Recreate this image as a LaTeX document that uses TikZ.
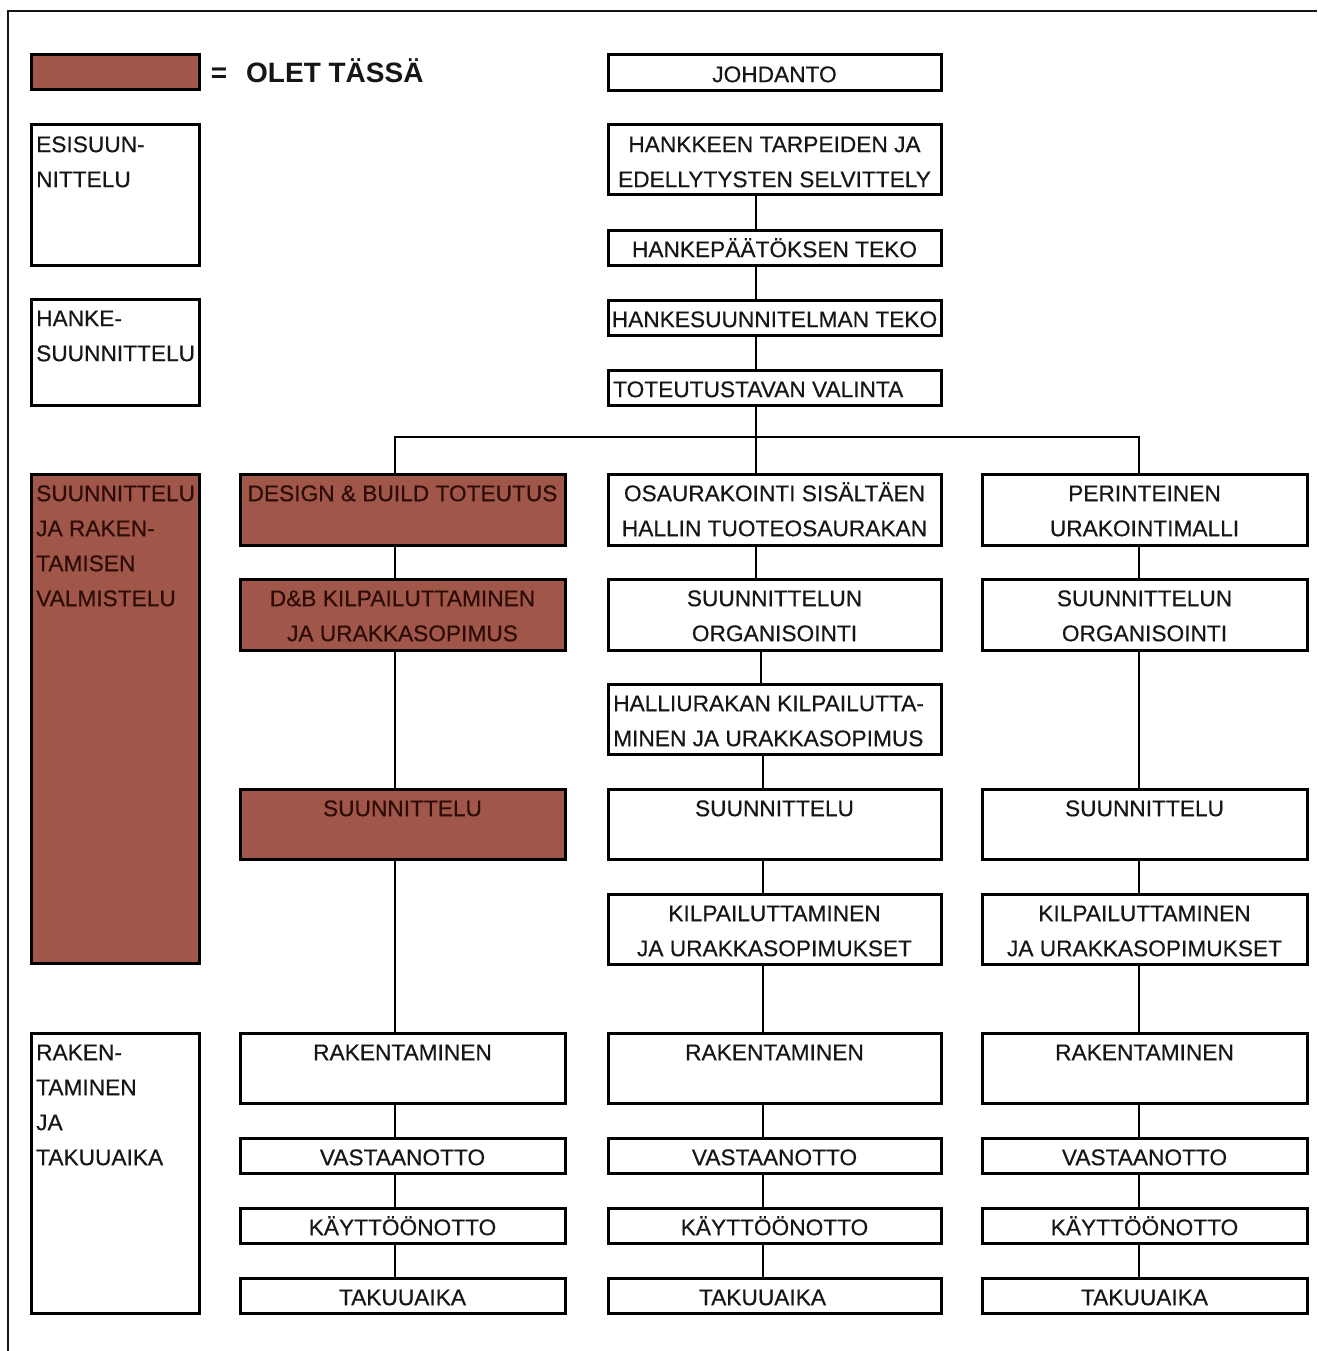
\documentclass[tikz,border=0pt]{standalone}
\usepackage{fontspec}
\setmainfont{Liberation Sans}
\newfontfamily\boxfont{Liberation Sans}[FakeBold=0.4]
\definecolor{brick}{RGB}{160,87,73}
\definecolor{ink}{RGB}{22,22,22}
\definecolor{brickink}{RGB}{45,12,8}

% box: name, extra style, x1, y1, x2, y2 (y grows downwards)
\newcommand\flowbox[6]{%
  \node[box,#2,minimum width={#5-#3},minimum height={#6-#4}] (#1) at ({(#3+#5)/2},{(#4+#6)/2}) {};}
% centred caption at the top of a box (the rule fixes the first baseline)
\newcommand\boxtext[3]{%
  \node[txt,#2,anchor=north] (#1-t) at ([yshift=-4.5pt]#1.north) {\rule{0pt}{24pt}#3};}
% left-aligned caption at the top of a box
\newcommand\boxtextl[3]{%
  \node[txt,align=left,#2,anchor=north west] (#1-t) at ([xshift=6.5pt,yshift=-4.5pt]#1.north west) {\rule{0pt}{24pt}#3};}

\begin{document}
\begin{tikzpicture}[x=1pt,y=-1pt,
  box/.style={rectangle,draw=black,line width=3pt,fill=white,inner sep=0pt},
  here/.style={fill=brick},
  txt/.style={font=\boxfont\fontsize{22.7}{35}\selectfont,inner sep=0pt,align=center,text=ink},
  heretxt/.style={text=brickink},
  link/.style={draw=black,line width=2.5pt},
  frame/.style={draw=ink,line width=2pt}]
\useasboundingbox (0,0) rectangle (1317,1351);
\fill[white] (0,0) rectangle (1317,1351);
\draw[frame] (8,1351) -- (8,11) -- (1317,11);

% legend
\flowbox{legend}{here}{31}{55}{199}{90}
\node[font=\bfseries\fontsize{28}{33}\selectfont,text=ink,inner sep=0pt,anchor=base] (legend-eq) at (219,83) {=};
\node[font=\bfseries\fontsize{28}{33}\selectfont,text=ink,inner sep=0pt,anchor=base west] (legend-t) at (246,83) {OLET TÄSSÄ};

% phase column
\flowbox{esi}{}{31}{125}{199}{265}
\boxtextl{esi}{}{ESISUUN-\\NITTELU}
\flowbox{hsu}{}{31}{299}{199}{405}
\boxtextl{hsu}{}{HANKE-\\SUUNNITTELU}
\flowbox{suja}{here}{31}{474}{199}{963}
\boxtextl{suja}{heretxt}{SUUNNITTELU\\JA RAKEN-\\TAMISEN\\VALMISTELU}
\flowbox{rakja}{}{31}{1033}{199}{1313}
\boxtextl{rakja}{}{RAKEN-\\TAMINEN\\JA\\TAKUUAIKA}

% common trunk
\flowbox{joh}{}{608}{55}{941}{91}
\boxtext{joh}{}{JOHDANTO}
\flowbox{hk}{}{608}{125}{941}{195}
\boxtext{hk}{}{HANKKEEN TARPEIDEN JA\\EDELLYTYSTEN SELVITTELY}
\flowbox{hp}{}{608}{230}{941}{265}
\boxtext{hp}{}{HANKEPÄÄTÖKSEN TEKO}
\flowbox{hs}{}{608}{300}{941}{335}
\boxtext{hs}{}{HANKESUUNNITELMAN TEKO}
\flowbox{tot}{}{608}{370}{941}{405}
\boxtextl{tot}{}{TOTEUTUSTAVAN VALINTA}

% branch 1: design & build
\flowbox{db}{here}{240}{474}{565}{545}
\boxtext{db}{heretxt}{DESIGN \& BUILD TOTEUTUS}
\flowbox{dbk}{here}{240}{579}{565}{650}
\boxtext{dbk}{heretxt}{D\&B KILPAILUTTAMINEN\\JA URAKKASOPIMUS}
\flowbox{dbs}{here}{240}{789}{565}{859}
\boxtext{dbs}{heretxt}{SUUNNITTELU}
\flowbox{ar}{}{240}{1033}{565}{1103}
\boxtext{ar}{}{RAKENTAMINEN}
\flowbox{av}{}{240}{1138}{565}{1173}
\boxtext{av}{}{VASTAANOTTO}
\flowbox{ak}{}{240}{1208}{565}{1243}
\boxtext{ak}{}{KÄYTTÖÖNOTTO}
\flowbox{at}{}{240}{1278}{565}{1313}
\boxtext{at}{}{TAKUUAIKA}

% branch 2: partial contracting
\flowbox{osa}{}{608}{474}{941}{545}
\boxtext{osa}{}{OSAURAKOINTI SISÄLTÄEN\\HALLIN TUOTEOSAURAKAN}
\flowbox{bo}{}{608}{579}{941}{650}
\boxtext{bo}{}{SUUNNITTELUN\\ORGANISOINTI}
\flowbox{hal}{}{608}{684}{941}{754}
\boxtextl{hal}{}{HALLIURAKAN KILPAILUTTA-\\MINEN JA URAKKASOPIMUS}
\flowbox{bs}{}{608}{789}{941}{859}
\boxtext{bs}{}{SUUNNITTELU}
\flowbox{bkl}{}{608}{894}{941}{964}
\boxtext{bkl}{}{KILPAILUTTAMINEN\\JA URAKKASOPIMUKSET}
\flowbox{br}{}{608}{1033}{941}{1103}
\boxtext{br}{}{RAKENTAMINEN}
\flowbox{bv}{}{608}{1138}{941}{1173}
\boxtext{bv}{}{VASTAANOTTO}
\flowbox{bk}{}{608}{1208}{941}{1243}
\boxtext{bk}{}{KÄYTTÖÖNOTTO}
\flowbox{bt}{}{608}{1278}{941}{1313}
\boxtext{bt}{xshift=-12pt}{TAKUUAIKA}

% branch 3: traditional contracting
\flowbox{per}{}{982}{474}{1307}{545}
\boxtext{per}{}{PERINTEINEN\\URAKOINTIMALLI}
\flowbox{co}{}{982}{579}{1307}{650}
\boxtext{co}{}{SUUNNITTELUN\\ORGANISOINTI}
\flowbox{cs}{}{982}{789}{1307}{859}
\boxtext{cs}{}{SUUNNITTELU}
\flowbox{ckl}{}{982}{894}{1307}{964}
\boxtext{ckl}{}{KILPAILUTTAMINEN\\JA URAKKASOPIMUKSET}
\flowbox{cr}{}{982}{1033}{1307}{1103}
\boxtext{cr}{}{RAKENTAMINEN}
\flowbox{cv}{}{982}{1138}{1307}{1173}
\boxtext{cv}{}{VASTAANOTTO}
\flowbox{ck}{}{982}{1208}{1307}{1243}
\boxtext{ck}{}{KÄYTTÖÖNOTTO}
\flowbox{ct}{}{982}{1278}{1307}{1313}
\boxtext{ct}{}{TAKUUAIKA}

% connector lines
\coordinate (sp0) at (756,0);
\coordinate (sp1) at (395,0);
\coordinate (sp2a) at (761,0);
\coordinate (sp2) at (763,0);
\coordinate (sp3) at (1139,0);
\coordinate (hub) at (756,437);

\draw[link] (hk.south -| sp0) -- (hp.north -| sp0);
\draw[link] (hp.south -| sp0) -- (hs.north -| sp0);
\draw[link] (hs.south -| sp0) -- (tot.north -| sp0);
\draw[link] (tot.south -| sp0) -- (osa.north -| sp0);
\draw[link] (db.north -| sp1) |- (hub) -| (per.north -| sp3);

\draw[link] (db.south -| sp1) -- (dbk.north -| sp1);
\draw[link] (dbk.south -| sp1) -- (dbs.north -| sp1);
\draw[link] (dbs.south -| sp1) -- (ar.north -| sp1);
\draw[link] (ar.south -| sp1) -- (av.north -| sp1);
\draw[link] (av.south -| sp1) -- (ak.north -| sp1);
\draw[link] (ak.south -| sp1) -- (at.north -| sp1);

\draw[link] (osa.south -| sp0) -- (bo.north -| sp0);
\draw[link] (bo.south -| sp2a) -- (hal.north -| sp2a);
\draw[link] (hal.south -| sp2) -- (bs.north -| sp2);
\draw[link] (bs.south -| sp2) -- (bkl.north -| sp2);
\draw[link] (bkl.south -| sp2) -- (br.north -| sp2);
\draw[link] (br.south -| sp2) -- (bv.north -| sp2);
\draw[link] (bv.south -| sp2) -- (bk.north -| sp2);
\draw[link] (bk.south -| sp2) -- (bt.north -| sp2);

\draw[link] (per.south -| sp3) -- (co.north -| sp3);
\draw[link] (co.south -| sp3) -- (cs.north -| sp3);
\draw[link] (cs.south -| sp3) -- (ckl.north -| sp3);
\draw[link] (ckl.south -| sp3) -- (cr.north -| sp3);
\draw[link] (cr.south -| sp3) -- (cv.north -| sp3);
\draw[link] (cv.south -| sp3) -- (ck.north -| sp3);
\draw[link] (ck.south -| sp3) -- (ct.north -| sp3);
\end{tikzpicture}
\end{document}
